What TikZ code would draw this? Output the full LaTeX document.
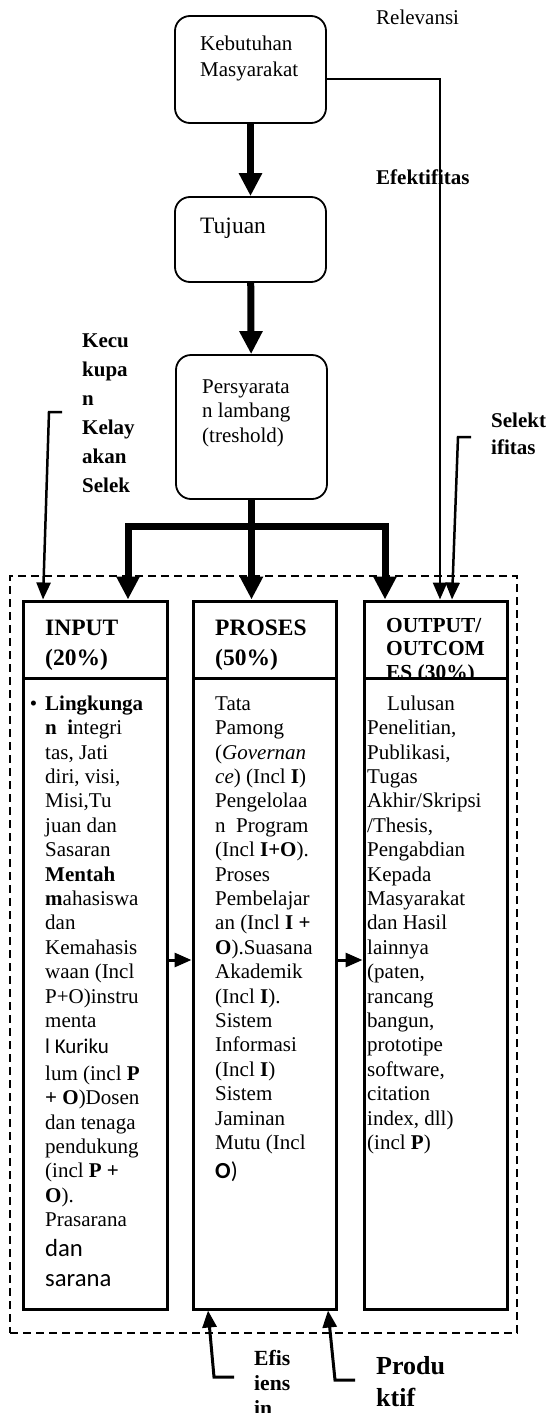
\documentclass[tikz,border=0pt]{standalone}
\usepackage{fontspec}
\setmainfont{Liberation Serif}
\newfontfamily\calibri{Carlito}
\usetikzlibrary{arrows.meta}
\tikzset{
  kotak bulat/.style={draw,line width=1.8pt,rounded corners=15pt,minimum width=151pt},
  kolom/.style={draw,line width=3pt,fill=white,minimum width=144pt},
  bingkai/.style={draw,dash pattern=on 8pt off 5pt,line width=1.5pt,
    minimum width=507pt,minimum height=757pt},
  teks/.style={anchor=north west,inner sep=0pt,align=left,
    font=\fontsize{21}{24.4}\selectfont},
  garis tebal/.style={line width=7pt},
  panah tebal/.style={line width=7pt,-{Triangle[width=22pt,length=23pt]}},
  panah tipis/.style={line width=2.5pt,-{Triangle[width=14pt,length=17pt]}}
}

\begin{document}
\begin{tikzpicture}[x=1pt,y=-1pt]
  \fill[white] (0,0) rectangle (548,1413);
  \useasboundingbox (0,0) rectangle (548,1413);
  % alur atas
  \node[kotak bulat,minimum height=107pt] (kebutuhan) at (250.5,69.5) {};
  \node[kotak bulat,minimum height=85pt] (tujuan) at (250.5,239.5) {};
  \node[kotak bulat,minimum height=144pt] (persyaratan) at (251.5,427) {};
  \node[teks,font=\fontsize{21}{26}\selectfont] (tkebutuhan) at (200,31.8) {\strut Kebutuhan\\Masyarakat};
  \node[teks,font=\fontsize{23.5}{28}\selectfont] (ttujuan) at (200,213.4) {\strut Tujuan};
  \node[teks,font=\fontsize{21}{24.5}\selectfont] (tpersyaratan) at (202,375.9) {\strut Persyarata\\n lambang\\(treshold)};
  \node[teks] (relevansi) at (376,7) {\strut Relevansi};
  \node[teks,font=\bfseries\fontsize{21}{24.4}\selectfont] (efektifitas) at (376,167) {\strut Efektifitas};
  \node[teks,font=\bfseries\fontsize{21}{29}\selectfont] (kecukupan) at (82,326.7) {\strut Kecu\\kupa\\n\\Kelay\\akan\\Selek};
  \node[teks,font=\bfseries\fontsize{21}{27}\selectfont] (selektifitas) at (491,408) {\strut Selekt\\ifitas};
  \node[teks,font=\bfseries\fontsize{21.6}{25}\selectfont] (efisiensi) at (254,1347.5) {\strut Efis\\iens\\in};
  \node[teks,font=\bfseries\fontsize{26}{32}\selectfont] (produktif) at (376,1352) {\strut Produ\\ktif};
  % kerangka dan kolom
  \node[bingkai] (kerangka) at (263.5,954.5) {};
  \node[kolom,minimum height=77pt] (inhead) at (95,639.5) {};
  \node[kolom,minimum height=77pt,minimum width=143pt] (prhead) at (264.5,639.5) {};
  \node[kolom,minimum height=77pt,minimum width=143pt] (outhead) at (435.5,639.5) {};
  \node[teks,font=\bfseries\fontsize{23.5}{30}\selectfont] (judulinput) at (45,614) {\strut INPUT\\(20\%)};
  \node[teks,font=\bfseries\fontsize{23.5}{30}\selectfont] (judulproses) at (215,614) {\strut PROSES\\(50\%)};
  \node[teks,font=\bfseries\fontsize{21.4}{23.5}\selectfont] (juduloutput) at (386,615.5) {\strut OUTPUT/\\OUTCOM\\ES (30\%)};
  \node[kolom,minimum height=631pt] (inbody) at (95,993.5) {};
  \node[kolom,minimum height=631pt,minimum width=143pt] (prbody) at (264.5,993.5) {};
  \node[kolom,minimum height=631pt,minimum width=143pt] (outbody) at (435.5,993.5) {};
  \node[teks] (isiinput) at (45,693) {\strut\llap{\textbullet\hspace{8pt}}\textbf{Lingkunga}\\
    \textbf{n}\ \ \textbf{i}ntegri\\
    tas, Jati\\
    diri, visi,\\
    Misi,Tu\\
    juan dan\\
    Sasaran\\
    \textbf{Mentah}\\
    \textbf{m}ahasiswa\\
    dan\\
    Kemahasis\\
    waan (Incl\\
    P+O)instru\\
    menta\\[2pt]
    {\calibri l Kuriku}\\[2pt]
    lum (incl \textbf{P}\\
    \textbf{+ O})Dosen\\
    dan tenaga\\
    pendukung\\
    (incl \textbf{P +}\\
    \textbf{O}).\\
    Prasarana\\[5pt]
    {\calibri\fontsize{24.7}{31}\selectfont dan}\\[6pt]
    {\calibri\fontsize{24.7}{31}\selectfont sarana}};
  \node[teks] (isiproses) at (215,693) {\strut Tata\\
    Pamong\\
    (\textit{Governan}\\
    \textit{ce}) (Incl \textbf{I})\\
    Pengelolaa\\
    n\ \ Program\\
    (Incl \textbf{I+O}).\\
    Proses\\
    Pembelajar\\
    an (Incl \textbf{I +}\\
    \textbf{O}).Suasana\\
    Akademik\\
    (Incl \textbf{I}).\\
    Sistem\\
    Informasi\\
    (Incl \textbf{I})\\
    Sistem\\
    Jaminan\\
    Mutu (Incl\\[5pt]
    {\calibri\fontsize{23}{28}\selectfont\textbf{O})}};
  \node[teks] (isioutput) at (367,693) {\strut\hspace{20pt}Lulusan\\
    Penelitian,\\
    Publikasi,\\
    Tugas\\
    Akhir/Skripsi\\
    /Thesis,\\
    Pengabdian\\
    Kepada\\
    Masyarakat\\
    dan Hasil\\
    lainnya\\
    (paten,\\
    rancang\\
    bangun,\\
    prototipe\\
    software,\\
    citation\\
    index, dll)\\
    (incl \textbf{P})};
  % panah
  \coordinate (cabangkiri) at (128,526);
  \coordinate (cabangkanan) at (385,526);
  \draw[panah tebal] (kebutuhan) -- (tujuan);
  \draw[panah tebal] (tujuan) -- (persyaratan);
  \draw[panah tebal] (persyaratan.south) -- (persyaratan.south |- prhead.north);
  \draw[garis tebal,line cap=rect] (cabangkiri) -- (cabangkanan);
  \draw[panah tebal] (cabangkiri) -- (cabangkiri |- inhead.north);
  \draw[panah tebal] (cabangkanan) -- (cabangkanan |- outhead.north);
  \draw[panah tipis] ([yshift=-9.5pt]kebutuhan.east) -| ([xshift=4.5pt]outhead.north);
  \coordinate (ujungkecukupan) at (62,412);
  \coordinate (ujungselektif) at (471,437);
  \coordinate (ujungefisien) at (234,1377);
  \coordinate (ujungproduktif) at (355,1380);
  \draw[panah tipis] (ujungkecukupan) -- ++(-13,0) -- ([xshift=-52pt]inhead.north);
  \draw[panah tipis] (ujungselektif) -- ++(-13,0) -- ([xshift=16.5pt]outhead.north);
  \draw[panah tipis,line width=3pt] (ujungefisien) -- ++(-20,0) -- ([xshift=-56.5pt]prbody.south);
  \draw[panah tipis,line width=3pt] (ujungproduktif) -- ++(-20,0) -- ([xshift=63.5pt]prbody.south);
  \draw[panah tipis,line width=3pt] ([yshift=33.5pt]inbody.east) -- ([yshift=33.5pt]prbody.west);
  \draw[panah tipis,line width=3pt] ([yshift=33.5pt]prbody.east) -- ([yshift=33.5pt]outbody.west);
\end{tikzpicture}
\end{document}
